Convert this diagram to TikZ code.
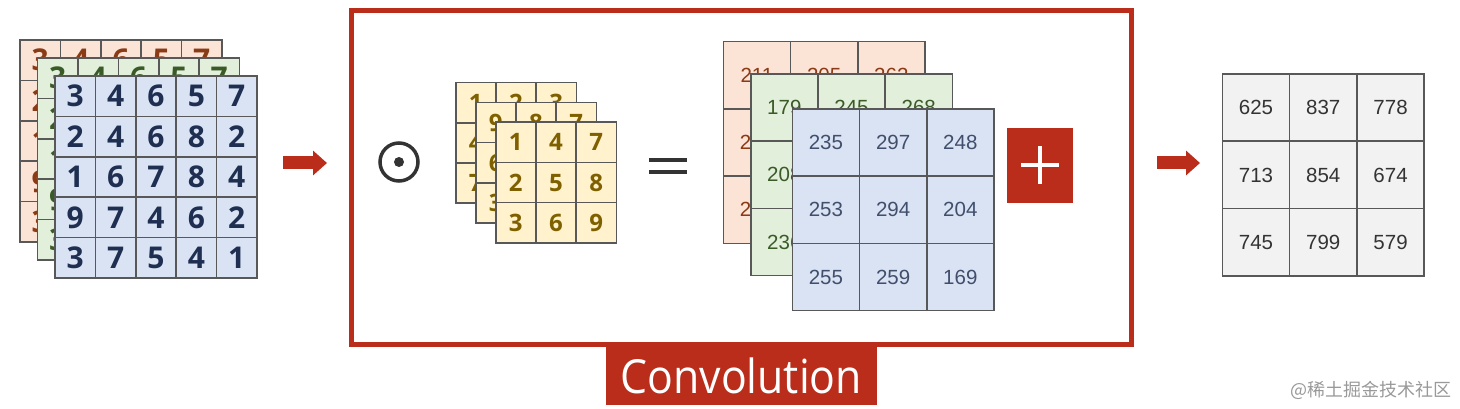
\documentclass[tikz,border=0pt]{standalone}
\usepackage{fontspec}
\setmainfont{Open Sans}
\newfontfamily\numfont{Liberation Sans}
\newfontfamily\cjkfont{Noto Sans CJK SC}
\usetikzlibrary{positioning, arrows.meta, calc}
\definecolor{CVred}{HTML}{BA2D1B}
\definecolor{CVline}{HTML}{585858}
\definecolor{CVdark}{HTML}{333333}
\definecolor{LYred}{HTML}{FBE3D6}
\definecolor{LYgreen}{HTML}{E2EFDA}
\definecolor{LYblue}{HTML}{DAE3F3}
\definecolor{LYyellow}{HTML}{FFF2CC}
\definecolor{LYgrey}{HTML}{F2F2F2}
\definecolor{TXred}{HTML}{8A3A14}
\definecolor{TXgreen}{HTML}{3A5A28}
\definecolor{TXblue}{HTML}{1F2F52}
\definecolor{TXyellow}{HTML}{7F6000}
% one stack layer: name, left, top, cell size, cell style, rows
\newcommand{\numgrid}[6]{%
  \foreach \row [count=\r] in {#6} {
    \foreach \val [count=\c] in \row {
      \node[#5, minimum size=#4] (#1-\r-\c)
        at ({#2+(\c-0.5)*#4},{#3+(\r-0.5)*#4}) {\val};
    }
  }%
}

\begin{document}
\begin{tikzpicture}[x=1pt, y=-1pt,
    cell/.style={draw=CVline, line width=1.6pt, inner sep=0pt},
    inbig/.style={cell, font=\fontsize{30}{30}\selectfont\bfseries},
    kern/.style={cell, fill=LYyellow, text=TXyellow, font=\fontsize{24}{24}\selectfont\bfseries},
    outnum/.style={cell, font=\numfont\fontsize{20.5}{20.5}\selectfont},
    blockarrow/.style={CVred, line width=13pt, -{Triangle[length=14pt, width=24pt]}}]
    \useasboundingbox (0,0) rectangle (1460,409);
    % input: three channels
    \numgrid{inr}{20}{40}{40.4}{inbig, fill=LYred, text=TXred}
      {{3,4,6,5,7},{2,4,6,8,2},{1,6,7,8,4},{9,7,4,6,2},{3,7,5,4,1}}
    \numgrid{ing}{37.5}{58}{40.4}{inbig, fill=LYgreen, text=TXgreen}
      {{3,4,6,5,7},{2,4,6,8,2},{1,6,7,8,4},{9,7,4,6,2},{3,7,5,4,1}}
    \numgrid{inb}{55}{76}{40.4}{inbig, fill=LYblue, text=TXblue}
      {{3,4,6,5,7},{2,4,6,8,2},{1,6,7,8,4},{9,7,4,6,2},{3,7,5,4,1}}
    % convolution frame and its caption
    \node[draw=CVred, line width=5pt, minimum width=779.5pt, minimum height=334pt,
          inner sep=0pt] (conv) at (741.25,177.5) {};
    \node[below=0pt of conv, fill=CVred, text=white, minimum width=271pt,
          minimum height=58pt, inner sep=0pt,
          font=\fontsize{47}{47}\selectfont] (convlbl) {\scalebox{0.91}[1]{Convolution}};
    % hadamard symbol
    \node[circle, draw=CVdark, line width=3.5pt, minimum size=38pt, inner sep=0pt]
      (had) at (399,162) {};
    \fill[CVdark] (had.center) circle (5);
    % kernels
    \numgrid{kr}{455.7}{82.7}{40.2}{kern}{{1,2,3},{4,5,6},{7,8,9}}
    \numgrid{km}{475.7}{102.5}{40.2}{kern}{{9,8,7},{6,5,4},{3,2,1}}
    \numgrid{kb}{495.7}{122.3}{40.2}{kern}{{1,4,7},{2,5,8},{3,6,9}}
    % equals
    \coordinate (eq) at (668,166);
    \draw[CVdark, line width=4pt] ($(eq)+(-19,-6)$) -- ($(eq)+(19,-6)$)
                                  ($(eq)+(-19,6)$) -- ($(eq)+(19,6)$);
    % per-channel results
    \numgrid{or}{723.3}{41.7}{67.2}{outnum, fill=LYred, text=TXred}
      {{211,205,262},{225,270,238},{219,241,201}}
    \numgrid{og}{750.7}{74}{67.2}{outnum, fill=LYgreen, text=TXgreen}
      {{179,245,268},{208,251,230},{236,222,215}}
    \numgrid{ob}{792.3}{109}{67.2}{outnum, fill=LYblue, text=TXblue!85!white}
      {{235,297,248},{253,294,204},{255,259,169}}
    % sum over channels
    \node[fill=CVred, minimum width=66pt, minimum height=75pt, inner sep=0pt]
      (sum) at (1040,165.5) {};
    \draw[white, line width=4pt] ($(sum.center)+(-19,0)$) -- ($(sum.center)+(19,0)$)
                                 ($(sum.center)+(0,-19)$) -- ($(sum.center)+(0,19)$);
    % final feature map
    \numgrid{res}{1222.3}{74}{67.3}{outnum, fill=LYgrey, text=CVdark}
      {{625,837,778},{713,854,674},{745,799,579}}
    % arrows
    \coordinate (a1s) at (283,163);
    \coordinate (a1e) at (327,163);
    \coordinate (a2s) at (1157,163);
    \coordinate (a2e) at (1200,163);
    \draw[blockarrow] (a1s) -- (a1e);
    \draw[blockarrow] (a2s) -- (a2e);
    % watermark
    \node[anchor=east, text=black!40, font=\cjkfont\fontsize{18}{18}\selectfont]
      (wmark) at (1455,390) {@稀土掘金技术社区};
\end{tikzpicture}
\end{document}
